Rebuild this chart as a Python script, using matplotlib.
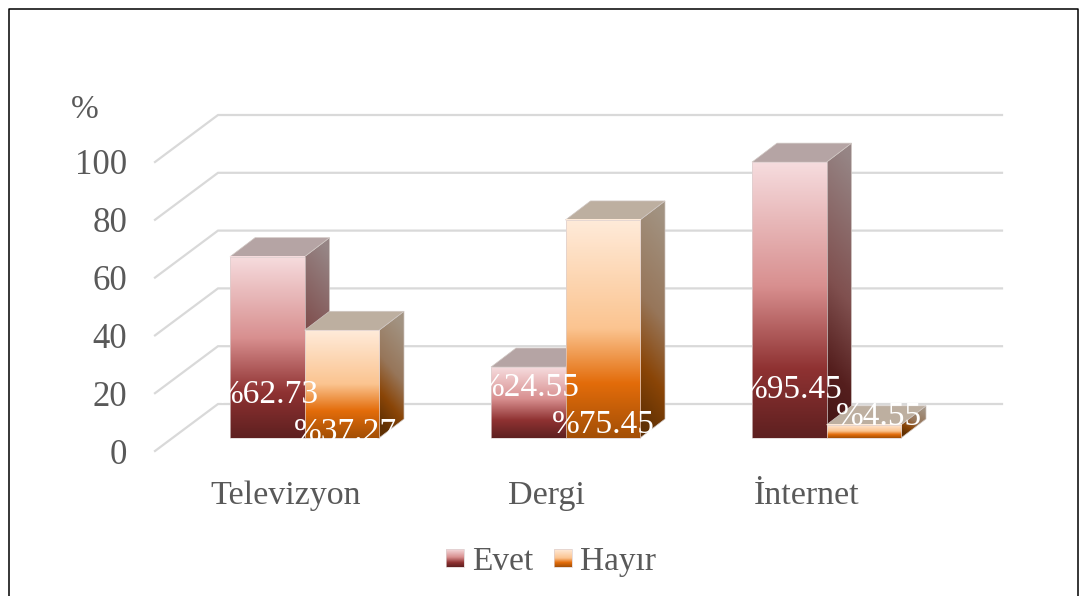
import numpy as np
import matplotlib
matplotlib.use("Agg")
import matplotlib.pyplot as plt
from matplotlib.colors import LinearSegmentedColormap
from matplotlib.patches import Polygon

categories = ["Televizyon", "Dergi", "İnternet"]
series_names = ["Evet", "Hayır"]
evet = [62.73, 24.55, 95.45]
hayir = [37.27, 75.45, 4.55]
evet_labels = ["%62.73", "%24.55", "%95.45"]
hayir_labels = ["%37.27", "%75.45", "%4.55"]
y_ticks = [0, 20, 40, 60, 80, 100]

# pixel layout of the fake 3d chart
W, H = 1084, 596
BASE_Y = 438
PX_PER_UNIT = 2.89
BAR_W = 74.5
GROUP_X = [230, 491, 752]
DX, DY = 25, -19
WALL_DX, WALL_DY = 63, -47
LEFT_X = 155
RIGHT_X = 1002

evet_cols = [(0, "#F6DCDE"), (0.45, "#D88F8F"), (0.75, "#8F3232"), (1, "#5E2020")]
hayir_cols = [(0, "#FFEBDA"), (0.5, "#FBC490"), (0.75, "#E36C0A"), (1, "#A34F06")]
evet_side = [(0, "#968585"), (0.5, "#80504F"), (0.8, "#551F1E"), (1, "#451615")]
hayir_side = [(0, "#A29382"), (0.45, "#97765A"), (0.75, "#8A4507"), (1, "#5F3003")]
evet_top = "#B5A4A4"
hayir_top = "#BDAFA0"

cmaps = {
    "Evet": (LinearSegmentedColormap.from_list("e", evet_cols), LinearSegmentedColormap.from_list("es", evet_side), evet_top),
    "Hayır": (LinearSegmentedColormap.from_list("h", hayir_cols), LinearSegmentedColormap.from_list("hs", hayir_side), hayir_top),
}

SERIF = ["Liberation Serif", "DejaVu Serif"]
TXT = "#595959"

fig = plt.figure(figsize=(W / 100, H / 100), dpi=100)
ax = fig.add_axes([0, 0, 1, 1])
ax.set_axis_off()
ax.set_autoscale_on(False)
ax.set_xlim(0, W)
ax.set_ylim(H, 0)


def val_y(v):
    return BASE_Y - v * PX_PER_UNIT


def front_face(x0, x1, y0, y1, cmap, z):
    grad = np.linspace(0, 1, 256).reshape(-1, 1)
    ax.imshow(grad, cmap=cmap, extent=(x0, x1, y1, y0), aspect="auto", vmin=0, vmax=1, zorder=z)
    ax.add_patch(Polygon([(x0, y0), (x1, y0), (x1, y1), (x0, y1)], closed=True, fill=False,
                         ec="#DCCFCF", lw=0.5, zorder=z + 0.1))


def side_face(x1, y0, y1, cmap, z):
    # diagonal gradient clipped to the side parallelogram
    pts = [(x1, y0), (x1 + DX, y0 + DY), (x1 + DX, y1 + DY), (x1, y1)]
    yy, xx = np.mgrid[0:1:128j, 0:1:64j]
    grad = yy + (0.5 - xx) * min(0.35, 30 / (y1 - y0 - DY))
    im = ax.imshow(grad, cmap=cmap, extent=(x1, x1 + DX, y1, y0 + DY), aspect="auto", vmin=0, vmax=1, zorder=z)
    poly = Polygon(pts, closed=True, transform=ax.transData, fc="none", ec="#CFC6C2", lw=0.5, zorder=z + 0.1)
    ax.add_patch(poly)
    im.set_clip_path(poly)


def top_face(x0, x1, y0, col, z):
    ax.add_patch(Polygon([(x0, y0), (x1, y0), (x1 + DX, y0 + DY), (x0 + DX, y0 + DY)], closed=True,
                         fc=col, ec="#CFC6C2", lw=0.5, zorder=z))


# frame
ax.plot([8.5, 8.5, 1077.5, 1077.5], [H, 8.5, 8.5, H], color="black", lw=1.1, zorder=1)

# back wall gridlines + left wall diagonals
for t in y_ticks:
    y = val_y(t)
    ax.plot([LEFT_X, LEFT_X + WALL_DX, RIGHT_X], [y + 13, y + 13 + WALL_DY, y + 13 + WALL_DY], color="#D9D9D9", lw=1.6,
            solid_joinstyle="miter", zorder=2)
    ax.text(127, y + 17, str(t), ha="right", va="center", fontsize=25, color=TXT, family=SERIF, zorder=2)

ax.text(85, 110, "%", ha="center", va="center", fontsize=24, color=TXT, family=SERIF)

# bars
z = 3
for i in range(len(categories)):
    x0 = GROUP_X[i]
    for name, v, k in ((series_names[0], evet[i], 0), (series_names[1], hayir[i], 1)):
        front, side, top = cmaps[name]
        xa = x0 + k * BAR_W
        xb = xa + BAR_W
        ya = val_y(v)
        side_face(xb, ya, BASE_Y, side, z)
        top_face(xa, xb, ya, top, z + 0.2)
        front_face(xa, xb, ya, BASE_Y, front, z + 0.3)
        z += 1

# data labels, white, they vanish where they leave the bars
evet_lab_pos = [(267, 395), (528, 388), (791, 390)]
hayir_lab_pos = [(345, 433), (603, 425), (879, 417)]
for lab, pos in zip(evet_labels + hayir_labels, evet_lab_pos + hayir_lab_pos):
    ax.text(pos[0], pos[1], lab, ha="center", va="center", fontsize=24, color="white", family=SERIF, zorder=50)

# category names
cat_x = [286, 546, 807]
for c, x in zip(categories, cat_x):
    ax.text(x, 496, c, ha="center", va="center", fontsize=24.5, color=TXT, family=SERIF)

# legend
for name, sx, tx in zip(series_names, [446, 554], [472, 580]):
    front_face(sx, sx + 17.5, 549, 567, cmaps[name][0], 5)
    ax.text(tx, 562, name, ha="left", va="center", fontsize=24, color=TXT, family=SERIF)

fig.savefig("out.png", dpi=100)
